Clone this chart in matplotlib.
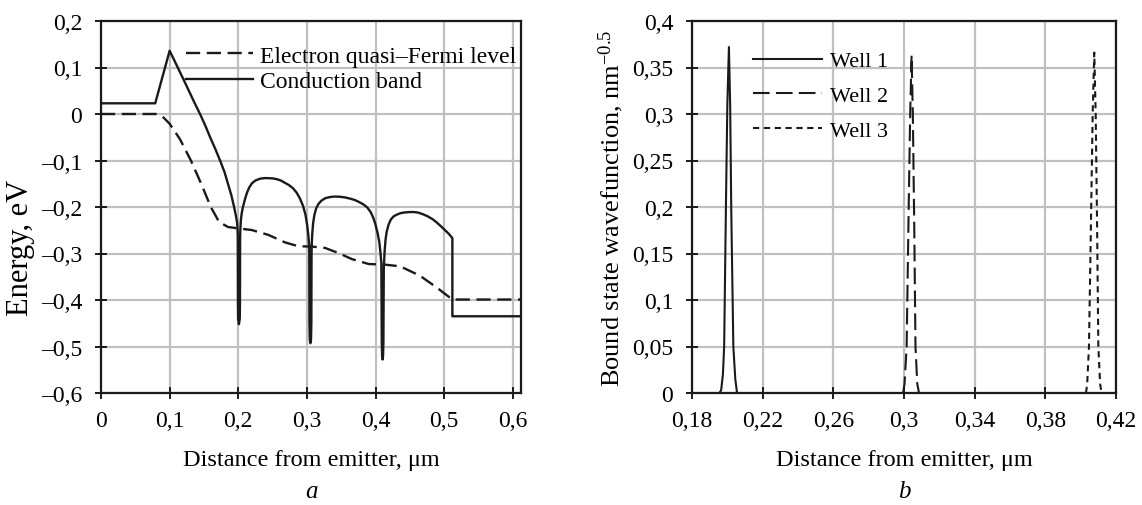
import matplotlib
matplotlib.use('Agg')
import matplotlib.pyplot as plt

plt.rcParams['font.family'] = ['Liberation Serif', 'DejaVu Serif']
plt.rcParams['mathtext.fontset'] = 'custom'
plt.rcParams['mathtext.rm'] = 'Liberation Serif'
plt.rcParams['mathtext.it'] = 'Liberation Serif:italic'

# ---------------- Data ----------------
# Panel a: conduction band
cb_x = [0.000, 0.079, 0.100, 0.106, 0.1118, 0.120, 0.128, 0.136, 0.1443, 0.152, 0.159, 0.1665,
        0.1735, 0.180, 0.185, 0.190, 0.1939, 0.1965, 0.1985,
        0.1993, 0.1995, 0.1998, 0.2010, 0.2022, 0.2025, 0.2027,
        0.2030, 0.2038, 0.2052, 0.2070, 0.2095, 0.2125, 0.2160, 0.2200, 0.2250, 0.2320, 0.2390,
        0.2439, 0.2500, 0.2560, 0.2620, 0.2680, 0.2740, 0.2800, 0.2850, 0.2900, 0.2945, 0.2980,
        0.3005, 0.3022, 0.3033,
        0.3035, 0.3037, 0.3042, 0.3051, 0.3060, 0.3065, 0.3068,
        0.3070, 0.3078, 0.3090, 0.3108, 0.3135, 0.3170, 0.3215, 0.3270, 0.3340, 0.3410, 0.3484,
        0.3560, 0.3630, 0.3700, 0.3770, 0.3830, 0.3880, 0.3930, 0.3970, 0.4000, 0.4030, 0.4055,
        0.4072, 0.4085,
        0.4088, 0.4091, 0.4096, 0.4103, 0.4110, 0.4115, 0.4118, 0.4121,
        0.4125, 0.4133, 0.4145, 0.4162, 0.4190, 0.4223, 0.4265, 0.4310, 0.4360, 0.4407, 0.4480,
        0.4553, 0.4620, 0.4690, 0.4760, 0.4830, 0.4890, 0.4950, 0.5010, 0.5070, 0.5120,
        0.5120, 0.6120]
cb_y = [0.023, 0.023, 0.136, 0.118, 0.100, 0.075, 0.050, 0.025, 0.000, -0.025, -0.050, -0.075,
        -0.100, -0.125, -0.150, -0.175, -0.200, -0.218, -0.235,
        -0.260, -0.400, -0.440, -0.452, -0.440, -0.400, -0.270,
        -0.250, -0.228, -0.212, -0.199, -0.185, -0.170, -0.158, -0.149, -0.143, -0.139, -0.1378,
        -0.138, -0.1385, -0.140, -0.143, -0.148, -0.153, -0.160, -0.169, -0.182, -0.198, -0.217,
        -0.240, -0.262, -0.283,
        -0.300, -0.450, -0.485, -0.493, -0.485, -0.450, -0.300,
        -0.283, -0.258, -0.236, -0.218, -0.203, -0.193, -0.186, -0.181, -0.1785, -0.1775, -0.178,
        -0.1795, -0.182, -0.185, -0.190, -0.195, -0.201, -0.211, -0.224, -0.238, -0.256, -0.275,
        -0.298, -0.320,
        -0.400, -0.490, -0.520, -0.528, -0.520, -0.490, -0.400, -0.330,
        -0.319, -0.295, -0.272, -0.254, -0.238, -0.227, -0.220, -0.2165, -0.2135, -0.212, -0.211,
        -0.2108, -0.212, -0.2155, -0.220, -0.226, -0.233, -0.241, -0.2495, -0.258, -0.267,
        -0.435, -0.435]

# Panel a: electron quasi-Fermi level
qf_x = [0.000, 0.080, 0.090, 0.100, 0.115, 0.131, 0.146, 0.160, 0.172, 0.185, 0.200,
        0.2197, 0.2439, 0.268, 0.2877, 0.307, 0.3265, 0.346, 0.3655, 0.390, 0.414,
        0.436, 0.465, 0.489, 0.512, 0.612]
qf_y = [0.000, 0.000, -0.006, -0.021, -0.054, -0.100, -0.150, -0.200, -0.232, -0.243, -0.246,
        -0.2495, -0.260, -0.276, -0.2845, -0.285, -0.288, -0.299, -0.312, -0.3226, -0.324,
        -0.3276, -0.348, -0.373, -0.399, -0.399]

# Panel b: bound state wavefunctions
w1_x = [0.1955, 0.1965, 0.1975, 0.1982, 0.1992, 0.2000, 0.2009, 0.2016, 0.2022, 0.2034, 0.2045, 0.2055]
w1_y = [0.000, 0.003, 0.020, 0.050, 0.200, 0.310, 0.372, 0.310, 0.200, 0.050, 0.015, 0.000]
w2_x = [0.2995, 0.3003, 0.3015, 0.3025, 0.3035, 0.3043, 0.3050, 0.3058, 0.3065, 0.3075, 0.3085]
w2_y = [0.000, 0.010, 0.050, 0.180, 0.300, 0.363, 0.300, 0.180, 0.050, 0.010, 0.000]
w3_x = [0.4030, 0.4037, 0.4047, 0.4058, 0.4068, 0.4077, 0.4085, 0.4093, 0.4100, 0.4110, 0.4118]
w3_y = [0.000, 0.010, 0.050, 0.180, 0.300, 0.366, 0.300, 0.180, 0.050, 0.010, 0.000]

# Ticks
a_xticks = [0.0, 0.1, 0.2, 0.3, 0.4, 0.5, 0.6]
a_xlabels = ['0', '0,1', '0,2', '0,3', '0,4', '0,5', '0,6']
a_yticks = [-0.6, -0.5, -0.4, -0.3, -0.2, -0.1, 0.0, 0.1, 0.2]
a_ylabels = ['\u20130,6', '\u20130,5', '\u20130,4', '\u20130,3', '\u20130,2', '\u20130,1', '0', '0,1', '0,2']
b_xticks = [0.18, 0.22, 0.26, 0.30, 0.34, 0.38, 0.42]
b_xlabels = ['0,18', '0,22', '0,26', '0,3', '0,34', '0,38', '0,42']
b_yticks = [0.0, 0.05, 0.10, 0.15, 0.20, 0.25, 0.30, 0.35, 0.40]
b_ylabels = ['0', '0,05', '0,1', '0,15', '0,2', '0,25', '0,3', '0,35', '0,4']

# ---------------- Figure ----------------
W, H = 1142, 506
fig = plt.figure(figsize=(W / 100, H / 100), dpi=100)
ax1 = fig.add_axes([101 / W, 1 - 394 / H, 420 / W, 372 / H])
ax2 = fig.add_axes([692 / W, 1 - 394 / H, 424 / W, 372 / H])

TICK_FS = 17
LAB_FS = 17.5
INK = '#1a1a1a'

for ax in (ax1, ax2):
    ax.grid(True, color='#c0c0c0', lw=1.6)
    ax.set_axisbelow(True)
    for s in ax.spines.values():
        s.set_linewidth(1.6)
        s.set_color(INK)
    ax.tick_params(direction='inout', length=9, width=1.4, labelsize=TICK_FS, color=INK)
    ax.tick_params(axis='y', pad=9)
    ax.tick_params(axis='x', pad=8)

# Panel a
ax1.plot(qf_x, qf_y, color=INK, lw=1.7, dashes=(6.0, 2.8), label='Electron quasi\u2013Fermi level')
ax1.plot(cb_x, cb_y, color=INK, lw=1.7, label='Conduction band')
ax1.set_xlim(0, 0.612)
ax1.set_ylim(-0.6, 0.2)
ax1.set_xticks(a_xticks)
ax1.set_xticklabels(a_xlabels)
ax1.set_yticks(a_yticks)
ax1.set_yticklabels(a_ylabels)
ax1.set_xlabel('Distance from emitter, \u03bcm', fontsize=LAB_FS, labelpad=13)
ax1.set_ylabel('Energy, eV', fontsize=22)
ax1.yaxis.set_label_coords(-0.158, (394 - 248) / 372)
ax1.legend(loc='upper left', bbox_to_anchor=(0.202, 0.935), frameon=False,
           fontsize=17, handlelength=2.85, handletextpad=0.3, labelspacing=0.18,
           borderpad=0, borderaxespad=0)

# Panel b
ax2.plot(w1_x, w1_y, color=INK, lw=1.5, label='Well 1')
ax2.plot(w2_x, w2_y, color=INK, lw=1.5, dashes=(8, 3), label='Well 2')
ax2.plot(w3_x, w3_y, color=INK, lw=1.5, dashes=(3.0, 2.2), label='Well 3')
ax2.set_xlim(0.18, 0.42)
ax2.set_ylim(0, 0.4)
ax2.set_xticks(b_xticks)
ax2.set_xticklabels(b_xlabels)
ax2.set_yticks(b_yticks)
ax2.set_yticklabels(b_ylabels)
ax2.set_xlabel('Distance from emitter, \u03bcm', fontsize=LAB_FS, labelpad=13)
ax2.set_ylabel('Bound state wavefunction, nm$^{\\mathregular{\u22120.5}}$', fontsize=19)
ax2.yaxis.set_label_coords(-0.155, 0.5)
ax2.legend(loc='upper left', bbox_to_anchor=(0.144, 0.92), frameon=False,
           fontsize=16, handlelength=3.1, handletextpad=0.36, labelspacing=0.64,
           borderpad=0, borderaxespad=0)

fig.text(311 / W, 1 - 492 / H, 'a', fontsize=18, style='italic', ha='center', va='center')
fig.text(904 / W, 1 - 492 / H, 'b', fontsize=18, style='italic', ha='center', va='center')

fig.savefig('out.png', dpi=100)
